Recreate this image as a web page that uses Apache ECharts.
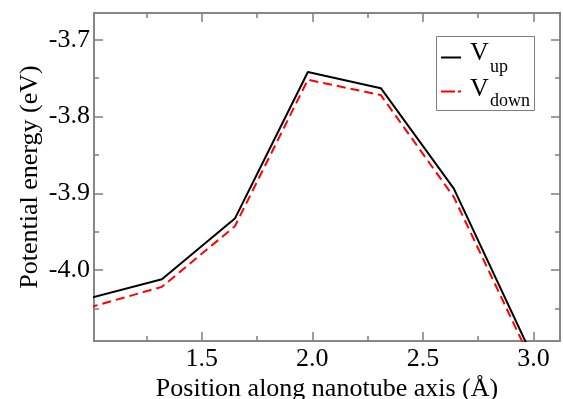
<!DOCTYPE html>
<html>
<head>
<meta charset="utf-8">
<script src="https://cdn.jsdelivr.net/npm/echarts@6/dist/echarts.min.js"></script>
<style>html,body{margin:0;padding:0;background:#fff;}#c{width:563px;height:399px;}</style>
</head>
<body>
<div id="c"></div>
<script>
var positions = [0.99, 1.32, 1.65, 1.98, 2.31, 2.64, 2.97];
var vUp = [-4.037, -4.012, -3.933, -3.742, -3.763, -3.894, -4.097];
var vDown = [-4.049, -4.022, -3.943, -3.752, -3.772, -3.905, -4.106];
var xMajorTicks = [1.5, 2.0, 2.5, 3.0];
var xMinorTicks = [1.25, 1.75, 2.25, 2.75];
var yMajorTicks = [-4.0, -3.9, -3.8, -3.7];
var yMinorTicks = [-4.05, -3.95, -3.85, -3.75];
var xRange = [1.013, 3.12];
var yRange = [-4.0926, -3.665];

var FONT = 'Liberation Serif';
var AXC = '#7f7f7f';

function pairs(xs, ys) { return xs.map(function (x, i) { return [x, ys[i]]; }); }

function xAxisDef(pos, ticks, len, showLabel, name) {
  return {
    type: 'value', position: pos, min: xRange[0], max: xRange[1],
    name: name || '', nameLocation: 'middle', nameGap: 35, nameMoveOverlap: false,
    nameTextStyle: { fontFamily: FONT, fontSize: 26, color: '#000' },
    axisLine: { show: true, onZero: false, lineStyle: { color: AXC, width: 1.5 } },
    axisTick: { show: true, inside: true, length: len, customValues: ticks, lineStyle: { color: AXC, width: 1.5 } },
    axisLabel: { show: showLabel, customValues: ticks, margin: 5, fontFamily: FONT, fontSize: 26, color: '#000',
      formatter: function (v) { return v.toFixed(1); } },
    splitLine: { show: false }
  };
}
function yAxisDef(pos, ticks, len, showLabel, name) {
  return {
    type: 'value', position: pos, min: yRange[0], max: yRange[1],
    name: name || '', nameLocation: 'middle', nameGap: 51, nameMoveOverlap: false,
    nameTextStyle: { fontFamily: FONT, fontSize: 26, color: '#000' },
    axisLine: { show: true, onZero: false, lineStyle: { color: AXC, width: 1.5 } },
    axisTick: { show: true, inside: true, length: len, customValues: ticks, lineStyle: { color: AXC, width: 1.5 } },
    axisLabel: { show: showLabel, customValues: ticks, margin: 4, fontFamily: FONT, fontSize: 26, color: '#000',
      formatter: function (v) { return v.toFixed(1); } },
    splitLine: { show: false }
  };
}

var chart = echarts.init(document.getElementById('c'), null, { renderer: 'canvas' });
chart.setOption({
  animation: false,
  backgroundColor: '#fff',
  grid: { left: 94, top: 13, right: 3, bottom: 58, containLabel: false, outerBoundsMode: 'none' },
  xAxis: [
    xAxisDef('bottom', xMajorTicks, 9, true, 'Position along nanotube axis (\u00C5)'),
    xAxisDef('bottom', xMinorTicks, 5, false),
    xAxisDef('top', xMajorTicks, 9, false),
    xAxisDef('top', xMinorTicks, 5, false)
  ],
  yAxis: [
    yAxisDef('left', yMajorTicks, 9, true, 'Potential energy (eV)'),
    yAxisDef('left', yMinorTicks, 5, false),
    yAxisDef('right', yMajorTicks, 9, false),
    yAxisDef('right', yMinorTicks, 5, false)
  ],
  series: [
    { name: 'Vup', type: 'line', xAxisIndex: 0, yAxisIndex: 0, data: pairs(positions, vUp),
      showSymbol: false, symbol: 'none', clip: true,
      lineStyle: { color: '#000', width: 2 } },
    { name: 'Vdown', type: 'line', xAxisIndex: 0, yAxisIndex: 0, data: pairs(positions, vDown),
      showSymbol: false, symbol: 'none', clip: true,
      lineStyle: { color: '#ff0000', width: 2, type: [9, 5] } }
  ],
  graphic: [
    { type: 'rect', shape: { x: 436.5, y: 36.5, width: 98, height: 74 },
      style: { fill: '#fff', stroke: AXC, lineWidth: 1 }, z: 10 },
    { type: 'line', shape: { x1: 441, y1: 57.5, x2: 461, y2: 57.5 },
      style: { stroke: '#000', lineWidth: 2 }, z: 11 },
    { type: 'text', x: 470, y: 40, z: 11,
      style: { text: 'V', font: '26px ' + FONT, fill: '#000', verticalAlign: 'top' } },
    { type: 'text', x: 490, y: 58, z: 11,
      style: { text: 'up', font: '18px ' + FONT, fill: '#000', verticalAlign: 'top' } },
    { type: 'line', shape: { x1: 441, y1: 91.5, x2: 461, y2: 91.5 },
      style: { stroke: '#ff0000', lineWidth: 2, lineDash: [14, 3] }, z: 11 },
    { type: 'text', x: 470, y: 76, z: 11,
      style: { text: 'V', font: '26px ' + FONT, fill: '#000', verticalAlign: 'top' } },
    { type: 'text', x: 490, y: 92, z: 11,
      style: { text: 'down', font: '18px ' + FONT, fill: '#000', verticalAlign: 'top' } }
  ]
});
</script>
</body>
</html>
